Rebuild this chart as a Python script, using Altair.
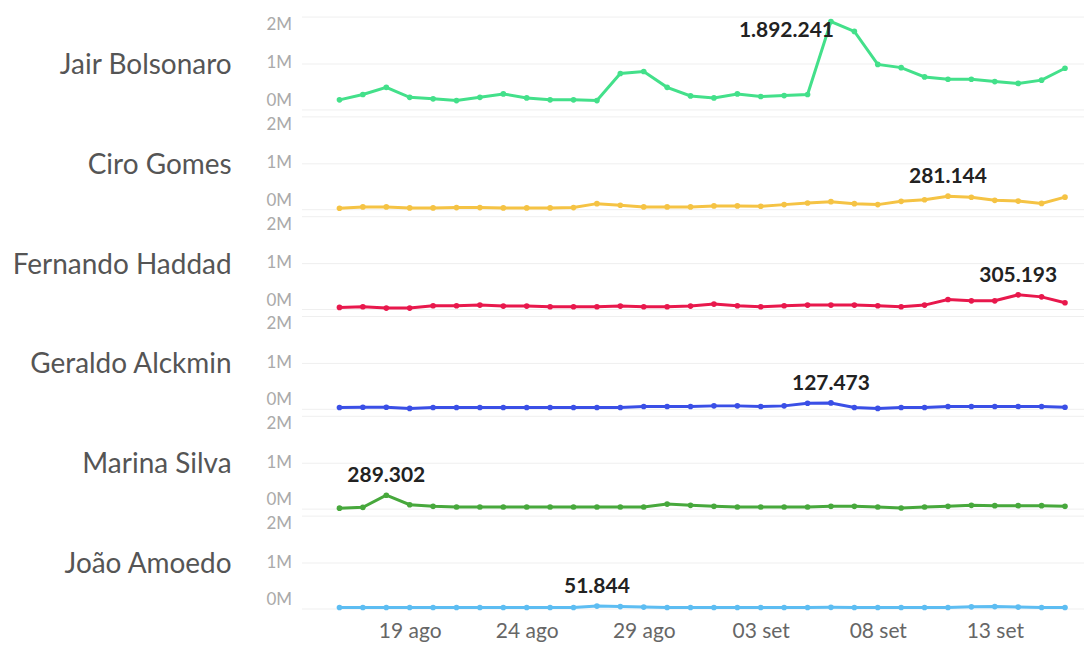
import altair as alt
import pandas as pd

# ---- data -------------------------------------------------------------
dates = pd.date_range("2018-08-16", "2018-09-16", freq="D").strftime("%Y-%m-%d").tolist()

candidates = ["Jair Bolsonaro", "Ciro Gomes", "Fernando Haddad",
              "Geraldo Alckmin", "Marina Silva", "João Amoedo"]
colors = ["#43e08a", "#f5c344", "#e8184c", "#3a4fe6", "#47a83c", "#5dbdf2"]

jair = [206000, 320000, 475000, 260000, 227000, 190000, 260000, 333000,
        248000, 206000, 206000, 190000, 773000, 816000, 475000, 290000,
        248000, 333000, 277000, 298000, 320000, 1892241, 1680000, 970000,
        900000, 700000, 650000, 650000, 600000, 560000, 630000, 886000]
ciro = [20000, 50000, 50000, 28000, 28000, 35000, 35000, 28000,
        28000, 28000, 35000, 120000, 85000, 50000, 50000, 50000,
        71000, 71000, 64000, 99000, 135000, 163000, 120000, 99000,
        170000, 205000, 281144, 258000, 192000, 175000, 125000, 260000]
haddad = [35000, 50000, 20000, 20000, 71000, 71000, 85000, 64000,
          64000, 50000, 50000, 50000, 64000, 50000, 50000, 64000,
          106000, 71000, 50000, 71000, 85000, 85000, 85000, 71000,
          50000, 85000, 206000, 177000, 177000, 305193, 262000, 135000]
alckmin = [28000, 35000, 35000, 10000, 28000, 28000, 28000, 28000,
           28000, 28000, 28000, 28000, 28000, 50000, 50000, 50000,
           64000, 64000, 50000, 64000, 120000, 127473, 28000, 10000,
           28000, 28000, 50000, 50000, 50000, 50000, 50000, 35000]
marina = [10000, 28000, 289302, 85000, 50000, 35000, 35000, 35000,
          35000, 35000, 35000, 35000, 35000, 35000, 99000, 71000,
          50000, 35000, 35000, 35000, 35000, 50000, 50000, 35000,
          14000, 35000, 50000, 71000, 64000, 64000, 64000, 50000]
joao = [20000, 20000, 20000, 20000, 20000, 20000, 20000, 20000,
        20000, 20000, 22000, 51844, 40000, 30000, 22000, 20000,
        20000, 20000, 20000, 20000, 22000, 25000, 20000, 20000,
        20000, 20000, 22000, 35000, 40000, 30000, 22000, 20000]

series = [jair, ciro, haddad, alckmin, marina, joao]

tick_dates = [(2018, 8, 19), (2018, 8, 24), (2018, 8, 29),
              (2018, 9, 3), (2018, 9, 8), (2018, 9, 13)]
month_labels = {8: "ago", 9: "set"}
y_ticks = [0, 1000000, 2000000]

# ---- table --------------------------------------------------------------
rows = []
for name, vals in zip(candidates, series):
    peak = max(vals)
    for d, v in zip(dates, vals):
        is_peak = v == peak
        rows.append({
            "name": name,
            "date": d,
            "value": v,
            "label": f"{v:,}".replace(",", ".") if is_peak else "",
            "anno": ("left" if name == "Jair Bolsonaro" else "top") if is_peak else "",
        })
df = pd.DataFrame(rows)
names_df = pd.DataFrame({"name": candidates})

FONT = "Lato"
W, H = 784, 93
NAME_W = 218
SPACING = 7

month_expr = " : ".join(
    [f"utcmonth(datum.value) == {m - 1} ? '{lab}'" for m, lab in month_labels.items()]
) + " : ''"
label_expr = f"utcFormat(datum.value, '%d') + ' ' + ({month_expr})"

x = alt.X(
    "date:T",
    scale=alt.Scale(
        type="utc",
        domain=[alt.DateTime(year=2018, month=8, date=14, hours=9, utc=True),
                alt.DateTime(year=2018, month=9, date=16, hours=19, minutes=30, utc=True)],
    ),
    axis=alt.Axis(
        values=[alt.DateTime(year=a, month=b, date=c, utc=True) for a, b, c in tick_dates],
        labelExpr=label_expr, title=None, grid=False, ticks=False, domain=False,
        labelFont=FONT, labelFontSize=21, labelColor="#666666", labelPadding=12,
    ),
)
y = alt.Y(
    "value:Q",
    scale=alt.Scale(domain=[0, 2000000], nice=False),
    axis=alt.Axis(
        values=y_ticks, labelExpr="floor(datum.value / 1000000) + 'M'",
        title=None, ticks=False, domain=False, grid=True, gridColor="#efefef",
        labelFont=FONT, labelFontSize=17, labelColor="#aaaaaa", labelPadding=10,
        labelFlush=True,
    ),
)
color = alt.Color("name:N", scale=alt.Scale(domain=candidates, range=colors), legend=None)

base = alt.Chart(df).encode(x=x, y=y)

line = base.mark_line(strokeWidth=3).encode(color=color)
pts = base.mark_circle(size=32, opacity=1).encode(color=color)
txt_left = base.transform_filter("datum.anno == 'left'").mark_text(
    align="right", baseline="middle", dx=3, dy=9, font=FONT, fontSize=21,
    fontWeight="bold", color="#222222").encode(text="label:N")
txt_top = base.transform_filter("datum.anno == 'top'").mark_text(
    align="center", baseline="bottom", dy=-9, font=FONT, fontSize=21,
    fontWeight="bold", color="#222222").encode(text="label:N")

row_enc = alt.Row("name:N", sort=candidates, title=None,
                  header=alt.Header(labels=False))

plots = alt.layer(line, pts, txt_left, txt_top).properties(
    width=W, height=H
).facet(row=row_enc, spacing=SPACING, bounds="flush")

names = alt.Chart(names_df).mark_text(
    align="right", baseline="middle", font=FONT, fontSize=28, color="#555555"
).encode(
    x=alt.value(NAME_W), y=alt.value(H / 2 + 3), text="name:N"
).properties(width=NAME_W, height=H).facet(row=row_enc, spacing=SPACING, bounds="flush")

chart = alt.hconcat(names, plots, spacing=34).properties(
    padding={"left": 4, "top": 7, "right": 0, "bottom": 0}
).configure_view(stroke=None)

chart.save("out.html", embed_options={"renderer": "svg", "actions": False})
